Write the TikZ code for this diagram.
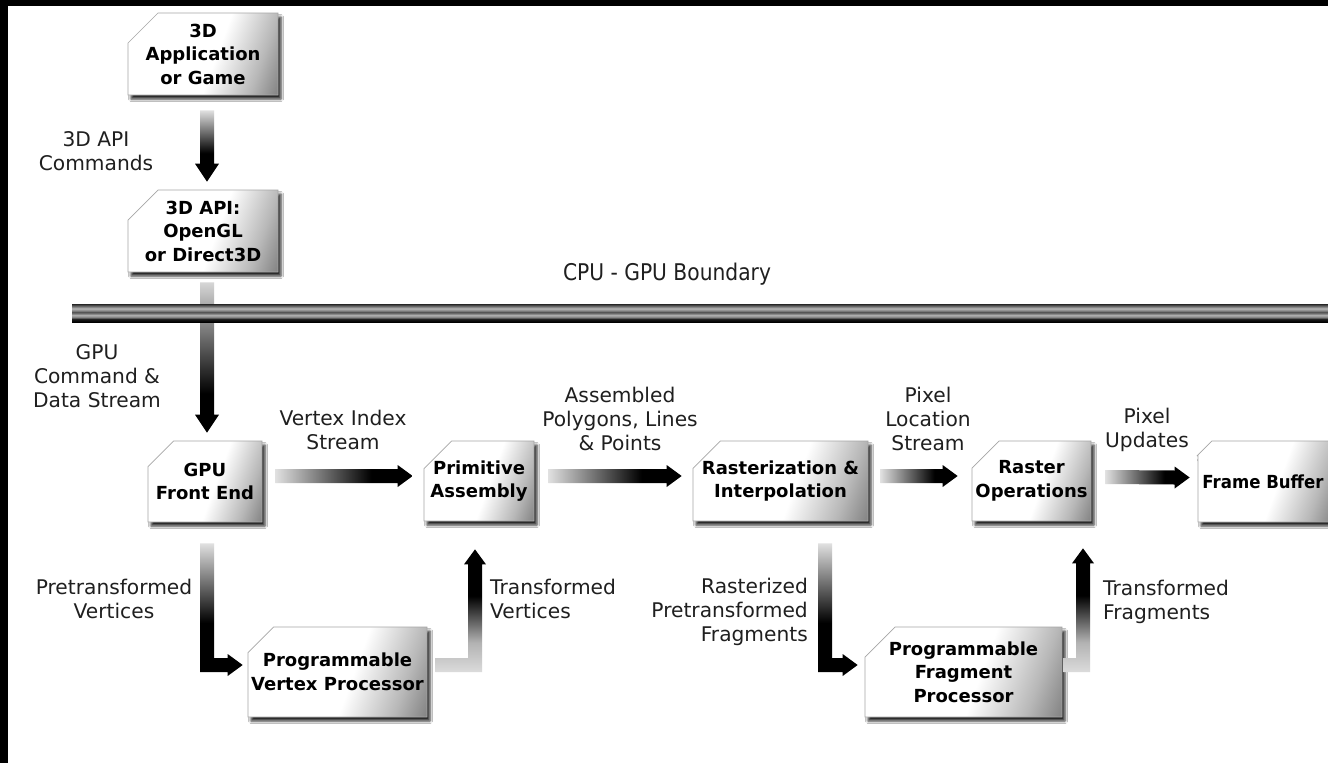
\documentclass[tikz,border=0pt]{standalone}
\usepackage{fontspec}
\setmainfont{DejaVu Sans}
\newfontfamily\barfont[FakeStretch=0.88]{DejaVu Sans}
\newfontfamily\narrowbold[FakeStretch=0.92]{DejaVu Sans Bold}
\usetikzlibrary{shapes.misc,shadows.blur,calc}

\newcommand\bxfont{\bfseries\fontsize{18}{23.5}\selectfont}
\newcommand\lbfont{\fontsize{20.2}{24}\selectfont}

% (a shaded path covers the 25bp..75bp part of a 100bp shading)
% stage boxes: white, darkening toward the right and the lower right corner
\pgfdeclarehorizontalshading{boxshade}{100bp}{color(0bp)=(white); color(55bp)=(white); color(72bp)=(black!28); color(85bp)=(black!55); color(100bp)=(black!85)}
% flow arrows: light at the tail, black toward the head
\pgfdeclarehorizontalshading{hright}{100bp}{color(0bp)=(black!12); color(25bp)=(black!12); color(60bp)=(black); color(100bp)=(black)}
\pgfdeclareverticalshading{vdown}{100bp}{color(0bp)=(black); color(45bp)=(black); color(75bp)=(black!12); color(100bp)=(black!12)}
\pgfdeclareverticalshading{vdownlong}{100bp}{color(0bp)=(black); color(38bp)=(black); color(75bp)=(black!16); color(100bp)=(black!16)}
\pgfdeclareverticalshading{vup}{100bp}{color(0bp)=(black!14); color(25bp)=(black!14); color(37bp)=(black!30); color(56bp)=(black); color(100bp)=(black)}
% CPU/GPU boundary bar: dark rims, light bands and a darker core
\pgfdeclareverticalshading{barshade}{100bp}{color(0bp)=(black); color(25bp)=(black); color(33bp)=(black!90); color(38bp)=(black!50); color(44bp)=(black!30); color(49bp)=(black!55); color(52.5bp)=(black!68); color(56.5bp)=(black!48); color(62.5bp)=(black!28); color(69bp)=(black!58); color(75bp)=(black!85); color(100bp)=(black!85)}

% straight arrow pointing right: #1 tail centre, #2 tip
\newcommand\flowright[2]{%
  \shade[shading=hright] ($(#1)+(0,-7)$) -- ($(#2)+(-15,-7)$) -- ($(#2)+(-15,-11)$) -- (#2)
    -- ($(#2)+(-15,11)$) -- ($(#2)+(-15,7)$) -- ($(#1)+(0,7)$) -- cycle;}
% straight arrow pointing down: #1 shading, #2 tail centre, #3 tip
\newcommand\flowdown[3]{%
  \shade[shading=#1] ($(#2)+(-7,0)$) -- ($(#2)+(7,0)$) -- ($(#3)+(7,-18)$) -- ($(#3)+(12,-18)$) -- (#3)
    -- ($(#3)+(-12,-18)$) -- ($(#3)+(-7,-18)$) -- cycle;}
% bent arrow, down then right: #1 tail centre, #2 tip
\newcommand\flowdownright[2]{%
  \shade[shading=vdown] ($(#1)+(-7,0)$) -- ($(#1)+(7,0)$) -- ($(#1 |- #2)+(7,-7)$) -- ($(#2)+(-15,-7)$)
    -- ($(#2)+(-15,-11)$) -- (#2) -- ($(#2)+(-15,11)$) -- ($(#2)+(-15,7)$) -- ($(#1 |- #2)+(-7,7)$) -- cycle;}
% bent arrow, right then up: #1 tail centre, #2 tip
\newcommand\flowrightup[2]{%
  \shade[shading=vup] ($(#1)+(0,-7)$) -- ($(#2 |- #1)+(-7,-7)$) -- ($(#2)+(-7,15)$) -- ($(#2)+(-11,15)$)
    -- (#2) -- ($(#2)+(11,15)$) -- ($(#2)+(7,15)$) -- ($(#2 |- #1)+(7,7)$) -- ($(#1)+(0,7)$) -- cycle;}

\begin{document}
\begin{tikzpicture}[x=1pt,y=-1pt,
  stage/.style={shape=chamfered rectangle, chamfered rectangle corners=north west,
    chamfered rectangle xsep=15pt, chamfered rectangle ysep=15pt,
    inner xsep=-15pt, inner ysep=-8pt,
    draw=black!35, line width=0.7pt, shade, shading=boxshade, shading angle=-20,
    blur shadow={shadow xshift=3pt, shadow yshift=-4pt, shadow blur radius=2.5pt, shadow opacity=85},
    align=center, font=\bxfont, text=black},
  lab/.style={font=\lbfont, text=black!88, inner sep=0pt}]

\useasboundingbox (0,0) rectangle (1328,763);
\clip (0,0) rectangle (1328,763);
\fill[white] (0,0) rectangle (1328,763);
\fill[black] (0,0) rectangle (1328,6);
\fill[black] (0,0) rectangle (8,763);

% stages
\node[stage, minimum width=150pt, minimum height=82pt] (app) at (203,54) {3D\\Application\\or Game};
\node[stage, minimum width=150pt, minimum height=82pt] (api) at (203,231) {3D API:\\OpenGL\\or Direct3D};
\node[stage, minimum width=114pt, minimum height=81pt] (fe) at (205,481.5) {GPU\\Front End};
\node[stage, minimum width=110pt, minimum height=80pt] (pa) at (479,481) {Primitive\\Assembly};
\node[stage, minimum width=175pt, minimum height=80pt] (ri) at (780.5,481) {Rasterization \&\\Interpolation};
\node[stage, minimum width=119pt, minimum height=80pt] (ro) at (1031.5,481) {Raster\\Operations};
\node[stage, minimum width=136pt, minimum height=81pt] (fb) at (1266,481.5) {\narrowbold Frame Buffer\rule{6pt}{0pt}};
\node[stage, minimum width=179pt, minimum height=90pt] (vp) at (337.5,672) {Programmable\\Vertex Processor};
\node[stage, minimum width=197pt, minimum height=90pt] (fp) at (963.5,672) {Programmable\\Fragment\\Processor};

% command stream crossing the boundary (drawn beneath the bar)
\coordinate (s2) at ($(api.south)+(4,10)$);
\coordinate (t2) at ($(fe.north)+(2,-8)$);
\flowdown{vdownlong}{s2}{t2}

% CPU - GPU boundary
\coordinate (barL) at (72,304);
\coordinate (barR) at (1340,322);
\shade[shading=barshade] (barL) rectangle (barR);
\node[font=\barfont\fontsize{23}{26}\selectfont, text=black!88, inner sep=0pt] (bnd) at (667,274) {CPU - GPU Boundary};

% application to API
\coordinate (s1) at ($(app.south)+(4,15)$);
\coordinate (t1) at ($(api.north)+(4,-8)$);
\flowdown{vdown}{s1}{t1}

% main pipeline
\coordinate (s3) at ($(fe.east)+(13,-5.5)$);   \coordinate (t3) at ($(pa.west)+(-11,-5)$);
\coordinate (s4) at ($(pa.east)+(14,-5)$);     \coordinate (t4) at ($(ri.west)+(-11,-5)$);
\coordinate (s5) at ($(ri.east)+(12,-5)$);     \coordinate (t5) at ($(ro.west)+(-14,-5)$);
\coordinate (s6) at ($(ro.east)+(14,-4)$);     \coordinate (t6) at ($(fb.west)+(-8,-4)$);
\flowright{s3}{t3}
\flowright{s4}{t4}
\flowright{s5}{t5}
\flowright{s6}{t6}

% programmable processors
\coordinate (s7) at ($(fe.south)+(2,21)$);     \coordinate (t7) at ($(vp.west)+(-5,-7)$);
\coordinate (s8) at ($(vp.east)+(8,-7)$);      \coordinate (t8) at ($(pa.south)+(-4,28)$);
\coordinate (s9) at ($(ri.south)+(44.5,22)$);  \coordinate (t9) at ($(fp.west)+(-7,-7)$);
\coordinate (s10) at ($(fp.east)+(1,-7)$);     \coordinate (t10) at ($(ro.south)+(51.5,27)$);
\flowdownright{s7}{t7}
\flowrightup{s8}{t8}
\flowdownright{s9}{t9}
\flowrightup{s10}{t10}

% labels
\node[lab, align=center] (l1) at (96,151.5) {3D API\\Commands};
\node[lab, align=center] (l2) at (97,376) {GPU\\Command \&\\Data Stream};
\node[lab, align=center] (l3) at (343,430) {Vertex Index\\Stream};
\node[lab, align=center] (l4) at (620,419) {Assembled\\Polygons, Lines\\\& Points};
\node[lab, align=center] (l5) at (928,419) {Pixel\\Location\\Stream};
\node[lab, align=center] (l6) at (1147,430) {Pixel\\Updates};
\node[lab, align=center] (l7) at (114,598.5) {Pretransformed\\Vertices};
\node[lab, align=left, anchor=west] (l8) at (490,598.5) {Transformed\\Vertices};
\node[lab, align=right, anchor=east] (l9) at (808,612) {Rasterized\\Pretransformed\\Fragments};
\node[lab, align=left, anchor=west] (l10) at (1103,602) {Transformed\\Fragments};
\end{tikzpicture}
\end{document}
